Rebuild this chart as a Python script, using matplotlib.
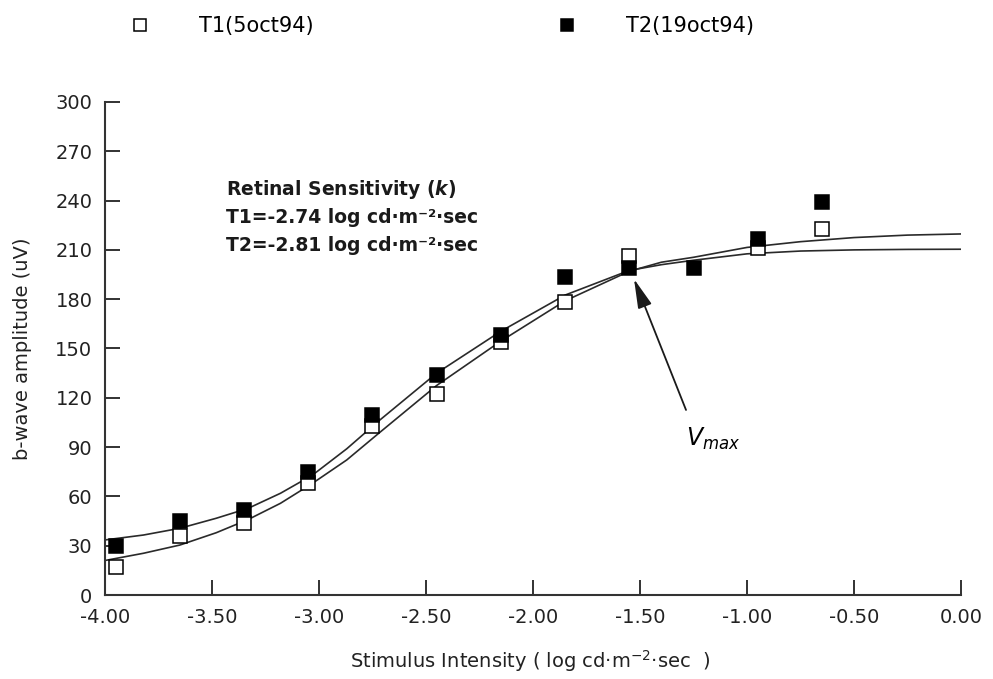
import numpy as np
from matplotlib import pyplot as plt

plt.rcParams['font.family'] = ['DejaVu Sans']
plt.rcParams['axes.unicode_minus'] = False

# Stimulus intensity (log cd.m-2.sec) for each flash
intensity = [-3.95, -3.65, -3.35, -3.05, -2.75, -2.45, -2.15, -1.85, -1.55, -1.25, -0.95, -0.65]
# b-wave amplitudes (uV), T1 has no point at -1.25
amp_t1 = [16.8, 36, 43.6, 68, 102.9, 122.3, 154.2, 178.5, 206.3, np.nan, 211, 222.6]
amp_t2 = [29.8, 45.2, 51.7, 75, 109.5, 134, 158.2, 193.4, 198.8, 198.8, 216.5, 239]

# fitted curves
fit_x = [-4.0, -3.82, -3.65, -3.48, -3.33, -3.18, -3.03, -2.87, -2.72, -2.45,
         -2.15, -1.85, -1.55, -1.4, -1.25, -1.0, -0.75, -0.5, -0.25, 0.0]
fit_t1 = [21, 25.4, 30.4, 37.9, 46, 55.8, 68, 82.2, 98.5, 127.5,
          154.5, 179, 197, 202.5, 205.5, 211.5, 215, 217.5, 219, 219.7]
fit_t2 = [33.5, 36.5, 40.6, 46.7, 52.8, 61.9, 73, 89, 106, 135,
          160.5, 182.5, 197.5, 201, 203.7, 207.6, 209.3, 210, 210.3, 210.4]

x_ticks = [-4.0, -3.5, -3.0, -2.5, -2.0, -1.5, -1.0, -0.5, 0.0]
x_labels = ['-4.00', '-3.50', '-3.00', '-2.50', '-2.00', '-1.50', '-1.00', '-0.50', '0.00']
y_ticks = [0, 30, 60, 90, 120, 150, 180, 210, 240, 270, 300]

sens_lines = [r'Retinal Sensitivity ($\mathbfit{k}$)',
              'T1=-2.74 log cd·m⁻²·sec',
              'T2=-2.81 log cd·m⁻²·sec']

dpi = 100
fig = plt.figure(figsize=(993 / dpi, 679 / dpi), dpi=dpi)
ax = fig.add_axes([0.1057, 0.1237, 0.8621, 0.7261])

line_col = '#2a2a2a'
ax.plot(fit_x, fit_t1, '-', color=line_col, lw=1.2)
ax.plot(fit_x, fit_t2, '-', color=line_col, lw=1.2)
ax.plot(intensity, amp_t1, 's', ms=10, mfc='white', mec='black', mew=1.1,
        ls='none', label='T1(5oct94)', zorder=3)
ax.plot(intensity, amp_t2, 's', ms=10, mfc='black', mec='black', mew=1.1,
        ls='none', label='T2(19oct94)', zorder=4)

ax.set_xlim(-4.0, 0.0)
ax.set_ylim(0, 300)
ax.set_xticks(x_ticks)
ax.set_xticklabels(x_labels)
ax.set_yticks(y_ticks)
ax.tick_params(direction='in', length=11, width=1.3, labelsize=14, colors='#222222')
ax.tick_params(axis='x', pad=9)
ax.tick_params(axis='y', pad=9)
for s in ['top', 'right']:
    ax.spines[s].set_visible(False)
for s in ['left', 'bottom']:
    ax.spines[s].set_linewidth(1.5)
    ax.spines[s].set_color('#333333')

ax.set_ylabel('b-wave amplitude (uV)', fontsize=14, color='#222222')
ax.yaxis.set_label_coords(-0.085, 0.5)
ax.set_xlabel(r'Stimulus Intensity ( log cd·m$^{-2}$·sec  )', fontsize=14, color='#222222')
ax.xaxis.set_label_coords(0.4965, -0.108)

# sensitivity text block
for i, s in enumerate(sens_lines):
    ax.text(-3.435, 243.5 - 17 * i, s, fontsize=13.5, fontweight='bold',
            va='baseline', ha='left', color='#1a1a1a')

# Vmax arrow
ax.annotate('', xy=(-1.528, 192.3), xytext=(-1.285, 112.6),
            arrowprops=dict(arrowstyle='-|>,head_length=0.9,head_width=0.22',
                            color='#1a1a1a', lw=1.3, mutation_scale=20,
                            shrinkA=0, shrinkB=0))
ax.text(-1.285, 91, r'$V_{max}$', fontsize=17, va='baseline', ha='left')

fig.legend(loc='center left', bbox_to_anchor=(0.122, 0.962), ncol=2, frameon=False,
           fontsize=15, handlelength=1.0, handletextpad=2.35, columnspacing=11.65,
           borderaxespad=0, markerscale=0.93)

fig.savefig('out.png', dpi=dpi)
